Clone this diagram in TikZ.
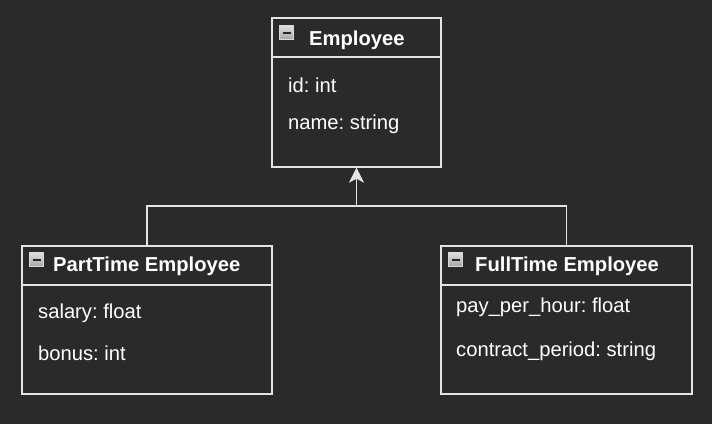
\documentclass[tikz,border=0pt]{standalone}
\usepackage{fontspec}
\setmainfont{Liberation Sans}
\usetikzlibrary{arrows.meta}
\frenchspacing

\definecolor{bgdark}{HTML}{2A2A2A}
\definecolor{edgegray}{HTML}{E4E4E4}

\tikzset{
  classbox/.style={rectangle, draw=edgegray, line width=1.4pt, inner sep=0pt},
  title/.style={anchor=west, inner sep=0pt, text=white, font=\fontsize{20.2}{24}\selectfont\bfseries},
  field/.style={anchor=west, inner sep=0pt, text=white, font=\fontsize{20.2}{24}\selectfont},
  toggle/.style={rectangle, draw=gray!30, line width=0.8pt, minimum size=14pt, inner sep=0pt,
    top color=gray!25, bottom color=gray!70,
    path picture={\draw[black!85, line width=2pt] ([xshift=3pt]path picture bounding box.west) -- ([xshift=-3pt]path picture bounding box.east);}}
}

\begin{document}
\begin{tikzpicture}[x=1pt, y=-1pt]
			\fill[bgdark] (0,0) rectangle (712,424);
			\useasboundingbox (0,0) rectangle (712,424);

			% Define classes
			\node[classbox, minimum width=169pt, minimum height=149pt] (emp) at (356.5,92.5) {};
			\node[classbox, minimum width=250pt, minimum height=148pt] (pt) at (147,320) {};
			\node[classbox, minimum width=251pt, minimum height=148pt] (ft) at (566.5,320) {};

			% Header lines
			\draw[edgegray, line width=1.4pt] (272,57) -- (441,57);
			\draw[edgegray, line width=1.4pt] (22,285) -- (272,285);
			\draw[edgegray, line width=1.4pt] (441,285) -- (692,285);

			% Titles
			\node[toggle] (empicon) at (286.5,32.5) {};
			\node[title] (emptitle) at (309,40) {Employee};
			\node[toggle] (pticon) at (36.5,259.5) {};
			\node[title] (pttitle) at (53,266) {PartTime Employee};
			\node[toggle] (fticon) at (455.5,259.5) {};
			\node[title] (fttitle) at (475,266) {FullTime Employee};

			% Fields
			\node[field] (empid) at (288,85) {id: int};
			\node[field] (empname) at (288,124) {name: string};
			\node[field] (ptsalary) at (38,313) {salary: float};
			\node[field] (ptbonus) at (38,353) {bonus: int};
			\node[field] (ftpay) at (456,307) {pay\_per\_hour: float};
			\node[field] (ftcontract) at (456,351) {contract\_period: string};

			% Draw inheritance
			\coordinate (join) at (356.5,206);
			\draw[edgegray, line width=1.4pt] (pt.north) |- (join) -| (ft.north);
			\draw[edgegray, line width=1.4pt, -{Stealth[length=15pt, width=15pt, inset=4pt]}] (join) -- (emp.south);
		\end{tikzpicture}
\end{document}
